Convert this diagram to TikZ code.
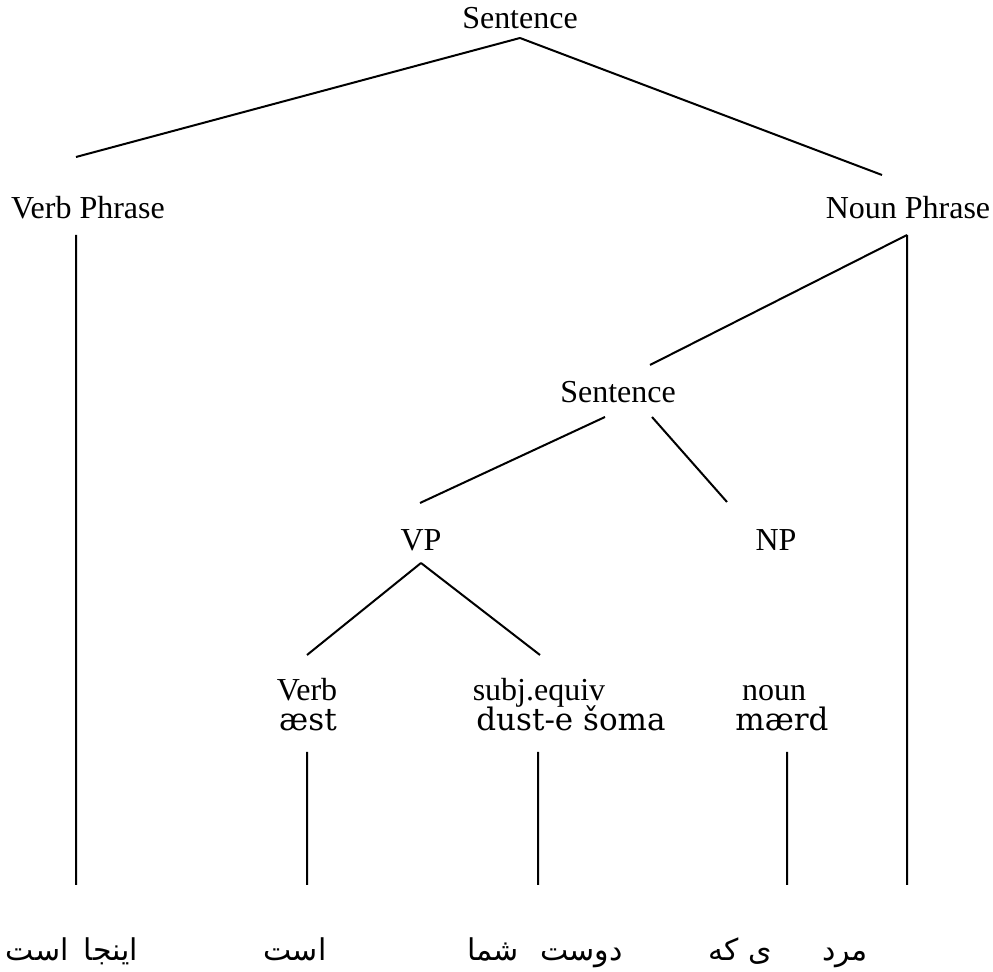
\documentclass[tikz,border=0pt]{standalone}
\usepackage{fontspec}
\setmainfont{Liberation Serif}
\newfontfamily\translitfont{DejaVu Serif}
\newfontfamily\farsifont[Script=Arabic]{DejaVu Sans}
\TeXXeTstate=1
\usetikzlibrary{calc, positioning}
\newcommand{\category}[3]{
    \node[cat] (#1) at (#2) {#3};
}
\newcommand{\translit}[3]{
    \node[romaji] (#1) at (#2) {#3};
}
\newcommand{\leaf}[3]{
    \node[farsi] (#1) at (#2) {#3};
}
\tikzset{
    cat/.style={inner sep=0pt, anchor=base, font=\fontsize{16}{19}\selectfont},
    romaji/.style={inner sep=0pt, anchor=base, font=\fontsize{15.5}{18}\translitfont},
    farsi/.style={inner sep=0pt, anchor=base, font=\fontsize{15}{18}\farsifont},
    branch/.style={line width=1pt}
}

\begin{document}
\begin{tikzpicture}[x=0.5pt, y=-0.5pt]
                    \useasboundingbox (0, 0) rectangle (993, 972);
                    % categories
                    \category{top}{520, 29}{Sentence}
                    \category{vphrase}{88, 219}{Verb Phrase}
                    \category{nphrase}{908, 219}{Noun Phrase}
                    \category{sent}{618, 403}{Sentence}
                    \category{vp}{421, 551}{VP}
                    \category{np}{776, 551}{NP}
                    \category{verb}{307, 701}{Verb}
                    \category{subj}{539, 701}{subj.equiv}
                    \category{noun}{774, 701}{noun}
                    \translit{aest}{308, 731}{æst}
                    \translit{dust}{571, 731}{dust-e šoma}
                    \translit{maerd}{782, 731}{mærd}
                    % persian words
                    \leaf{inja}{72, 961}{\beginR اینجا\hspace{0.5em}است\endR}
                    \leaf{ast}{295, 961}{\beginR است\endR}
                    \leaf{dustsh}{545, 961}{\beginR دوست\hspace{0.7em}شما\endR}
                    \leaf{ike}{740, 961}{\beginR ی که\endR}
                    \leaf{mard}{845, 961}{\beginR مرد\endR}
                    % branch ends
                    \coordinate (top-d) at (520, 38);
                    \coordinate (vphrase-u) at (76, 157);
                    \coordinate (vphrase-d) at (76, 235);
                    \coordinate (vphrase-b) at (76, 885);
                    \coordinate (nphrase-u) at (882, 175);
                    \coordinate (nphrase-d) at (907, 235);
                    \coordinate (nphrase-b) at (907, 885);
                    \coordinate (sent-u) at (650, 365);
                    \coordinate (sent-l) at (605, 417);
                    \coordinate (sent-r) at (652, 417);
                    \coordinate (vp-u) at (420, 503);
                    \coordinate (vp-d) at (421, 563);
                    \coordinate (np-u) at (727, 502);
                    \coordinate (verb-u) at (307, 655);
                    \coordinate (verb-d) at (307, 752);
                    \coordinate (verb-b) at (307, 885);
                    \coordinate (subj-u) at (540, 655);
                    \coordinate (subj-d) at (538, 752);
                    \coordinate (subj-b) at (538, 885);
                    \coordinate (noun-d) at (787, 752);
                    \coordinate (noun-b) at (787, 885);
                    \draw[branch]
                    (top-d) -- (vphrase-u)
                    (top-d) -- (nphrase-u)
                    (vphrase-d) -- (vphrase-b)
                    (nphrase-d) -- (nphrase-b)
                    (nphrase-d) -- (sent-u)
                    (sent-l) -- (vp-u)
                    (sent-r) -- (np-u)
                    (vp-d) -- (verb-u)
                    (vp-d) -- (subj-u)
                    (verb-d) -- (verb-b)
                    (subj-d) -- (subj-b)
                    (noun-d) -- (noun-b);
                \end{tikzpicture}
\end{document}
